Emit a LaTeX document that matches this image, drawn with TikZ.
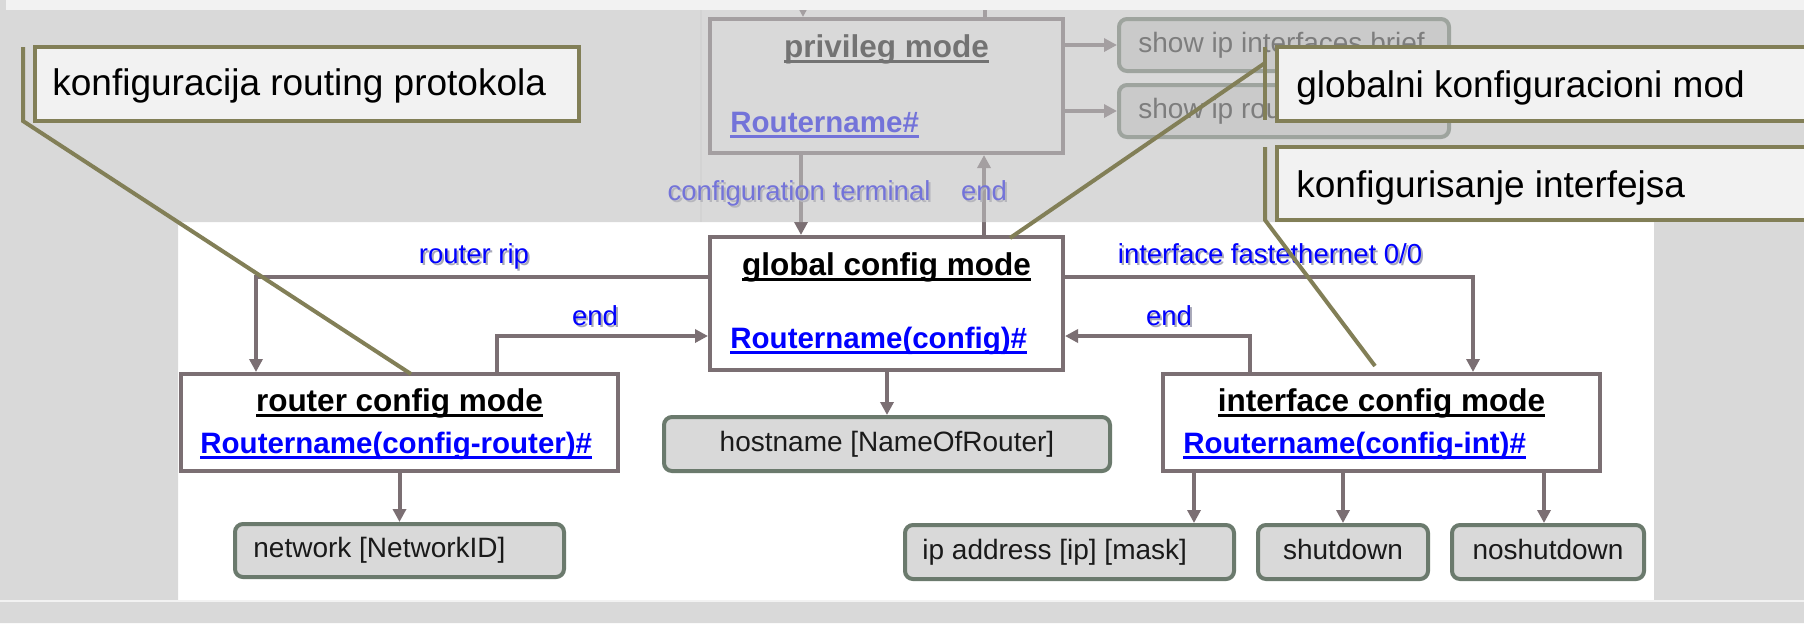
\documentclass[tikz,border=0pt]{standalone}
\usepackage{fontspec}
\setmainfont{Liberation Sans}
\usetikzlibrary{arrows.meta}
\definecolor{edge}{HTML}{7B6F73}
\definecolor{cmdedge}{HTML}{6B7A6D}
\definecolor{cmdfill}{HTML}{D9D9D9}
\definecolor{olive}{HTML}{827F57}
\definecolor{callfill}{HTML}{F2F2F2}
\definecolor{lblblue}{HTML}{0000FF}
\definecolor{shadowgray}{HTML}{A8A8B8}
\definecolor{txtblack}{HTML}{1A1A1A}
\definecolor{overlaygray}{HTML}{C0C0C0}
\definecolor{topstrip}{HTML}{F2F2F2}
\newcommand\myuline[1]{\setbox0=\hbox{#1}\rlap{\rule[-2.75pt]{\wd0}{1.4pt}}\box0}
\newcommand\shadowtxt[1]{\rlap{\raisebox{-1pt}{\hspace{1pt}\textcolor{shadowgray}{#1}}}\textcolor{lblblue}{#1}}
\tikzset{
  modebox/.style={draw=edge, fill=white, line width=2pt, inner sep=0pt},
  cmdbox/.style={draw=cmdedge, fill=cmdfill, line width=2pt, rounded corners=4pt, inner sep=0pt,
    font=\fontsize{14pt}{16pt}\selectfont, text=txtblack, text height=10pt, text depth=3pt},
  cmdtext/.style={font=\fontsize{14pt}{16pt}\selectfont, text=txtblack, inner sep=0pt, anchor=west,
    text height=10pt, text depth=3pt},
  conn/.style={draw=edge, line width=2pt, -{Triangle[length=6.5pt,width=6.5pt]}},
  plainconn/.style={draw=edge, line width=2pt},
  title/.style={font=\bfseries\fontsize{15.75pt}{18pt}\selectfont, inner sep=0pt, anchor=base},
  prompt/.style={font=\bfseries\fontsize{14.75pt}{17pt}\selectfont, inner sep=0pt, anchor=base west, text=lblblue},
  lbl/.style={font=\fontsize{13.75pt}{16pt}\selectfont, inner sep=0pt, anchor=base},
  callout/.style={draw=olive, fill=callfill, line width=2pt, inner sep=0pt},
  calltext/.style={font=\fontsize{18.5pt}{21pt}\selectfont, inner sep=0pt, anchor=base west, text=black},
  leader/.style={draw=olive, line width=2pt},
}
\begin{document}
\begin{tikzpicture}[x=0.5pt,y=-0.5pt]
\clip (0,0) rectangle (1804,623);
\fill[white] (0,0) rectangle (1804,623);
\draw[gray!12, line width=0.6pt] (701,0) -- (701,222);

% mode boxes
\node[modebox, minimum width=176.5pt, minimum height=67pt] (priv) at (886.5,86) {};
\node[modebox, minimum width=176.5pt, minimum height=66.5pt] (global) at (886.5,303.5) {};
\node[modebox, minimum width=218.5pt, minimum height=48.5pt] (router) at (399.5,422.5) {};
\node[modebox, minimum width=218.5pt, minimum height=48.5pt] (iface) at (1381.5,422.5) {};

\node[title] (privt) at (886.5,57) {\myuline{privileg mode}};
\node[prompt] (privp) at (730,132) {\myuline{Routername\#}};
\node[title] (globalt) at (886.5,275) {\myuline{global config mode}};
\node[prompt] (globalp) at (730,348) {\myuline{Routername(config)\#}};
\node[title] (routert) at (399.5,411) {\myuline{router config mode}};
\node[prompt] (routerp) at (200,453) {\myuline{Routername(config-router)\#}};
\node[title] (ifacet) at (1381.5,411) {\myuline{interface config mode}};
\node[prompt] (ifacep) at (1183,453) {\myuline{Routername(config-int)\#}};

% command boxes
\node[cmdbox, minimum width=165pt, minimum height=26pt] (show1) at (1284,45) {};
\node[cmdtext] (show1t) at ([xshift=10.5pt]show1.west) {show ip interfaces brief};
\node[cmdbox, minimum width=165pt, minimum height=26pt] (show2) at (1284,111) {};
\node[cmdtext] (show2t) at ([xshift=10.5pt]show2.west) {show ip route};
\node[cmdbox, minimum width=223pt, minimum height=27pt] (hostname) at (887,444) {hostname [NameOfRouter]};
\node[cmdbox, minimum width=164.5pt, minimum height=26.5pt] (network) at (399.5,550.5) {};
\node[cmdtext] (networkt) at ([xshift=10pt]network.west) {network [NetworkID]};
\node[cmdbox, minimum width=164.5pt, minimum height=27pt] (ipaddr) at (1069.5,552) {};
\node[cmdtext] (ipaddrt) at ([xshift=9.5pt]ipaddr.west) {ip address [ip] [mask]};
\node[cmdbox, minimum width=85pt, minimum height=27pt] (shutdown) at (1343,552) {shutdown};
\node[cmdbox, minimum width=96pt, minimum height=27pt] (noshut) at (1548,552) {noshutdown};

% coordinates for connector routes
\coordinate (topin) at (803,0);
\coordinate (topout) at (985,0);
\coordinate (ct) at (801,0);
\coordinate (et) at (984,0);
\coordinate (rrL) at (256,277);
\coordinate (endL) at (497,336);
\coordinate (ifR) at (1473,277);
\coordinate (endR) at (1250,336);
\coordinate (a1) at (1194,0);
\coordinate (a3) at (1544,0);
\coordinate (s1) at (0,45);
\coordinate (s2) at (0,111);

% connectors
\draw[conn] (topin) -- (topin |- priv.north);
\draw[plainconn] (topout |- priv.north) -- (topout);
\draw[conn] (priv.east |- s1) -- (show1.west |- s1);
\draw[conn] (priv.east |- s2) -- (show2.west |- s2);
\draw[conn] (priv.south -| ct) -- (global.north -| ct);
\draw[conn] (global.north -| et) -- (priv.south -| et);
\draw[conn] (global.west |- rrL) -- (rrL) -- (router.north -| rrL);
\draw[conn] (router.north -| endL) -- (endL) -- (global.west |- endL);
\draw[conn] (global.east |- ifR) -- (ifR) -- (iface.north -| ifR);
\draw[conn] (iface.north -| endR) -- (endR) -- (global.east |- endR);
\draw[conn] (global.south -| hostname.north) -- (hostname.north);
\draw[conn] (router.south) -- (network.north);
\draw[conn] (iface.south -| a1) -- (ipaddr.north -| a1);
\draw[conn] (iface.south -| shutdown.north) -- (shutdown.north);
\draw[conn] (iface.south -| a3) -- (noshut.north -| a3);

% labels
\node[lbl] (lblct) at (799,200) {\shadowtxt{configuration terminal}};
\node[lbl] (lblet) at (984,200) {\shadowtxt{end}};
\node[lbl] (lblrr) at (474,263) {\shadowtxt{router rip}};
\node[lbl] (lblendL) at (595,325) {\shadowtxt{end}};
\node[lbl] (lblif) at (1270,263) {\shadowtxt{interface fastethernet 0/0}};
\node[lbl] (lblendR) at (1169,325) {\shadowtxt{end}};

% grey overlay outside the active window
\fill[overlaygray, opacity=0.6, even odd rule] (0,0) rectangle (1804,623) (178,222) rectangle (1654,600);
\fill[topstrip] (6,0) rectangle (1804,10);
\draw[white!90!gray, line width=0.6pt] (0,601) -- (1804,601);

% callouts
\node[callout, minimum width=272pt, minimum height=37pt] (c1) at (307,84) {};
\node[calltext] (c1t) at (52,95) {konfiguracija routing protokola};
\coordinate (c1a) at (23,47);
\coordinate (c1b) at (23,121);
\coordinate (c1e) at (411,374);
\draw[leader] (c1a) -- (c1b) -- (c1e);

\node[callout, minimum width=276.5pt, minimum height=37pt] (c2) at (1553.5,84) {};
\node[calltext] (c2t) at (1296,97) {globalni konfiguracioni mod};
\coordinate (c2a) at (1265,47);
\coordinate (c2b) at (1265,120);
\coordinate (c2m) at (1265,63);
\coordinate (c2e) at (1010,238);
\draw[leader] (c2a) -- (c2b);
\draw[leader] (c2m) -- (c2e);

\node[callout, minimum width=276.5pt, minimum height=36.5pt] (c3) at (1553.5,183.5) {};
\node[calltext] (c3t) at (1296,197) {konfigurisanje interfejsa};
\coordinate (c3a) at (1265,147);
\coordinate (c3b) at (1265,220);
\coordinate (c3e) at (1375,366);
\draw[leader] (c3a) -- (c3b) -- (c3e);
\end{tikzpicture}
\end{document}
